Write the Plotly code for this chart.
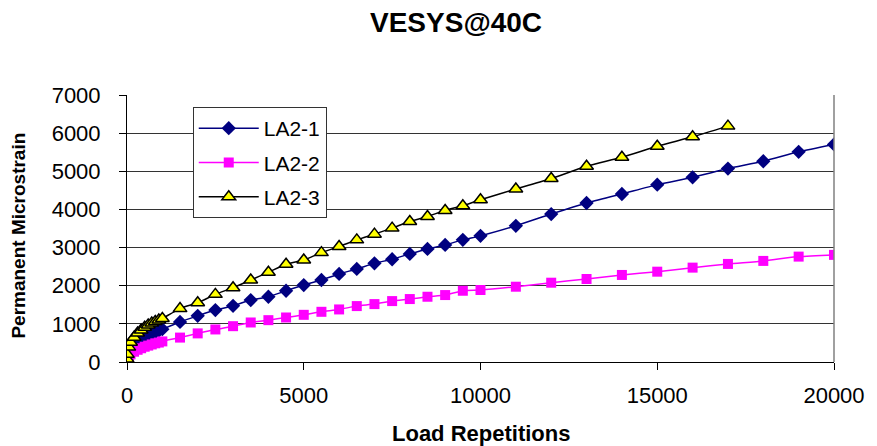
import plotly.graph_objects as go

# Load repetitions at which permanent strain was reported
cycles = [1, 10, 50, 100, 200, 300, 400, 500, 600, 700, 800, 900, 1000,
          1500, 2000, 2500, 3000, 3500, 4000, 4500, 5000, 5500, 6000, 6500,
          7000, 7500, 8000, 8500, 9000, 9500, 10000, 11000, 12000, 13000,
          14000, 15000, 16000, 17000, 18000, 19000, 20000]

# Permanent microstrain per mixture
la2_1 = [60, 150, 260, 330, 430, 510, 570, 630, 680, 730, 780, 820, 860,
         1050, 1210, 1361, 1474, 1624, 1711, 1868, 2018, 2150, 2308, 2439,
         2588, 2694, 2834, 2965, 3070, 3202, 3307, 3571, 3879, 4168,
         4405, 4650, 4842, 5071, 5263, 5510, 5703]
la2_2 = [30, 80, 150, 200, 270, 320, 360, 400, 430, 460, 490, 510, 540,
         640, 750, 853, 939, 1036, 1097, 1167, 1237, 1316, 1378, 1466,
         1518, 1597, 1650, 1711, 1755, 1868, 1887, 1974, 2079, 2176,
         2282, 2368, 2474, 2571, 2650, 2763, 2808]
la2_3 = [80, 200, 390, 520, 650, 760, 840, 910, 970, 1020, 1060, 1100, 1140,
         1400, 1553, 1773, 1947, 2150, 2352, 2563, 2676, 2868, 3026, 3202,
         3352, 3510, 3684, 3816, 3974, 4097, 4255, 4537, 4810, 5132,
         5368, 5658, 5905, 6184]

FONT = "Liberation Sans, Arial, sans-serif"

fig = go.Figure()

fig.add_trace(go.Scatter(
    x=cycles[:len(la2_1)], y=la2_1, name="LA2-1", legendgroup="a",
    mode="lines+markers",
    line=dict(color="#000080", width=1.5, shape="spline", smoothing=0.6),
    marker=dict(symbol="diamond", size=11, color="#000080"),
))
fig.add_trace(go.Scatter(
    x=cycles[:len(la2_2)], y=la2_2, name="LA2-2", legendgroup="b",
    mode="lines+markers",
    line=dict(color="#FF00FF", width=1.5, shape="spline", smoothing=0.6),
    marker=dict(symbol="square", size=10, color="#FF00FF"),
))
fig.add_trace(go.Scatter(
    x=cycles[:len(la2_3)], y=la2_3, name="LA2-3", legendgroup="c",
    mode="lines+markers",
    line=dict(color="#000000", width=1.5, shape="spline", smoothing=0.6),
    marker=dict(symbol="triangle-up", size=12, color="#FFFF00",
                line=dict(color="#000000", width=1.5)),
))

fig.update_layout(
    width=877, height=446,
    margin=dict(l=127, r=39, t=95, b=84),
    paper_bgcolor="white", plot_bgcolor="white",
    font=dict(family=FONT, color="black", size=20),
    title=dict(text="<b>VESYS@40C</b>", x=0.52, xanchor="center",
               y=0.951, yanchor="middle",
               font=dict(family=FONT, size=28, color="black")),
    showlegend=True,
    legend=dict(x=0.093, y=0.955, xanchor="left", yanchor="top",
                bgcolor="white", bordercolor="#333333", borderwidth=1,
                font=dict(family=FONT, size=21, color="black"),
                tracegroupgap=4, itemwidth=60),
    xaxis=dict(range=[0, 20000], dtick=5000, tick0=0, tickformat="d",
               showgrid=False, zeroline=False,
               showline=True, linecolor="black", linewidth=1,
               ticks="outside", ticklen=7, tickcolor="black",
               tickfont=dict(family=FONT, size=22),
               ticklabelstandoff=7),
    yaxis=dict(range=[0, 7000], dtick=1000, tick0=0, tickformat="d",
               showgrid=True, gridcolor="#333333", gridwidth=1,
               zeroline=False,
               showline=True, linecolor="black", linewidth=1,
               ticks="outside", ticklen=7, tickcolor="black",
               tickfont=dict(family=FONT, size=22),
               ticklabelstandoff=14),
    annotations=[
        dict(text="<b>Load Repetitions</b>", xref="paper", yref="paper",
             x=0.5, y=-0.266, xanchor="center", yanchor="middle",
             showarrow=False, font=dict(family=FONT, size=22)),
        dict(text="<b>Permanent Microstrain</b>", xref="paper", yref="paper",
             x=-0.1533, y=0.472, xanchor="center", yanchor="middle",
             textangle=-90, showarrow=False,
             font=dict(family=FONT, size=19)),
    ],
    shapes=[
        # right-hand frame of the plot area
        dict(type="line", xref="paper", yref="paper", x0=1, x1=1, y0=0, y1=1,
             line=dict(color="#808080", width=1.5)),
    ],
)

fig.write_html("out.html")
